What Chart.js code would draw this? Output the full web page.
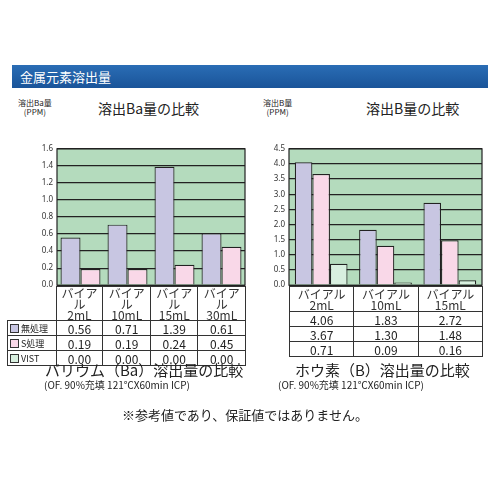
<!DOCTYPE html>
<html><head><meta charset="utf-8">
<script src="https://cdn.jsdelivr.net/npm/chart.js@4"></script>
<style>
body{margin:0;width:500px;height:500px;background:#fff;font-family:"Noto Sans CJK JP","Noto Sans",sans-serif;position:relative;overflow:hidden;color:#222}
.a{position:absolute;white-space:nowrap}
table{position:absolute;border-collapse:collapse;font-size:12px;font-family:"Noto Sans CJK JP",sans-serif}
td{border:1px solid #333;text-align:center;padding:0;height:14px;line-height:13px}
td.h{height:24px;line-height:11px;color:#333}
td.e{border:none}
.sw{display:inline-block;width:7px;height:7px;border:1px solid #333;margin-right:2px;vertical-align:-1px}
td.lg{text-align:left;font-size:9px;padding-left:2px}
</style></head><body>
<div class="a" style="left:12px;top:65px;width:476px;height:23px;background:linear-gradient(#2a6db5,#1a5499)"></div>
<div class="a" style="left:20px;top:67px;color:#fff;font-size:13px">金属元素溶出量</div>

<div class="a" style="left:18px;top:98px;font-size:8px;line-height:9px;text-align:center">溶出Ba量<br>(PPM)</div>
<div class="a" style="left:98px;top:98px;font-size:14px">溶出Ba量の比較</div>
<div class="a" style="left:263px;top:98px;font-size:8px;line-height:9px;text-align:center">溶出B量<br>(PPM)</div>
<div class="a" style="left:366px;top:98px;font-size:14px">溶出B量の比較</div>

<div class="a" style="left:0;top:140px;width:250px;height:154px"><canvas id="c1"></canvas></div>
<div class="a" style="left:250px;top:140px;width:250px;height:154px"><canvas id="c2"></canvas></div>

<table id="t1" style="left:7px;top:286px;width:239px"></table>
<table id="t2" style="left:289px;top:286px;width:194px"></table>

<div class="a" style="left:45px;top:359px;font-size:15px">バリウム（Ba）溶出量の比較</div>
<div class="a" style="left:44px;top:377px;font-size:10px">(OF. 90%充填 121℃X60min ICP)</div>
<div class="a" style="left:295px;top:359px;font-size:15px">ホウ素（B）溶出量の比較</div>
<div class="a" style="left:278px;top:377px;font-size:10px">(OF. 90%充填 121℃X60min ICP)</div>
<div class="a" style="left:122px;top:405px;font-size:13px">※参考値であり、保証値ではありません。</div>

<script>
const seriesNames=["無処理","S処理","VIST"];
const colors=["#c8c6e2","#f9d8e8","#d8efdf"];
const baCats=[["バイアル","2mL"],["バイアル","10mL"],["バイアル","15mL"],["バイアル","30mL"]];
const baNone=[0.56,0.71,1.39,0.61];
const baS=[0.19,0.19,0.24,0.45];
const baVist=[0.00,0.00,0.00,0.00];
const bCats=[["バイアル","2mL"],["バイアル","10mL"],["バイアル","15mL"]];
const bNone=[4.06,1.83,2.72];
const bS=[3.67,1.30,1.48];
const bVist=[0.71,0.09,0.16];

const bg={id:'bg',beforeDraw(c){const a=c.chartArea,x=c.ctx;x.save();x.fillStyle='#b4dbbd';x.fillRect(a.left,a.top,a.width,a.height);x.restore();},
 afterDraw(c){const a=c.chartArea,x=c.ctx;x.save();x.strokeStyle='#222';x.lineWidth=1.2;x.strokeRect(a.left,a.top,a.width,a.height);x.restore();}};
function mk(id,cats,data,max,step,yw,rp,cp){
 new Chart(document.getElementById(id),{type:'bar',
  data:{labels:cats.map(c=>c.join(' ')),datasets:data.map((d,i)=>({label:seriesNames[i],data:d,backgroundColor:colors[i],borderColor:'#222',borderWidth:1.2,borderSkipped:'bottom',categoryPercentage:cp,barPercentage:1}))},
  options:{responsive:true,maintainAspectRatio:false,animation:false,
   layout:{padding:{top:6,right:rp,bottom:8,left:0}},
   plugins:{legend:{display:false},tooltip:{enabled:false}},
   scales:{x:{display:false},
    y:{min:0,max:max,ticks:{stepSize:step,callback:v=>v.toFixed(1),color:'#333',font:{size:8,family:'Noto Sans'},padding:4},
     grid:{color:'#222',lineWidth:1.3,drawTicks:false},border:{display:false},
     afterFit(s){s.width=yw;}}}},
  plugins:[bg]});
}
mk('c1',baCats,[baNone,baS],1.6,0.2,57,5,0.85);
mk('c2',bCats,[bNone,bS,bVist],4.5,0.5,39,18,0.82);

function tbl(id,cats,rows,legend){
 let h='<tr>'+(legend?'<td class="e" style="width:48px"></td>':'')+cats.map(c=>'<td class="h">'+c[0]+'<br>'+c[1]+'</td>').join('')+'</tr>';
 rows.forEach((r,i)=>{h+='<tr>'+(legend?'<td class="lg"><span class="sw" style="background:'+colors[i]+'"></span>'+seriesNames[i]+'</td>':'')+r.map(v=>'<td>'+v.toFixed(2)+'</td>').join('')+'</tr>';});
 document.getElementById(id).innerHTML=h;
}
tbl('t1',baCats,[baNone,baS,baVist],true);
tbl('t2',bCats,[bNone,bS,bVist],false);
</script></body></html>
